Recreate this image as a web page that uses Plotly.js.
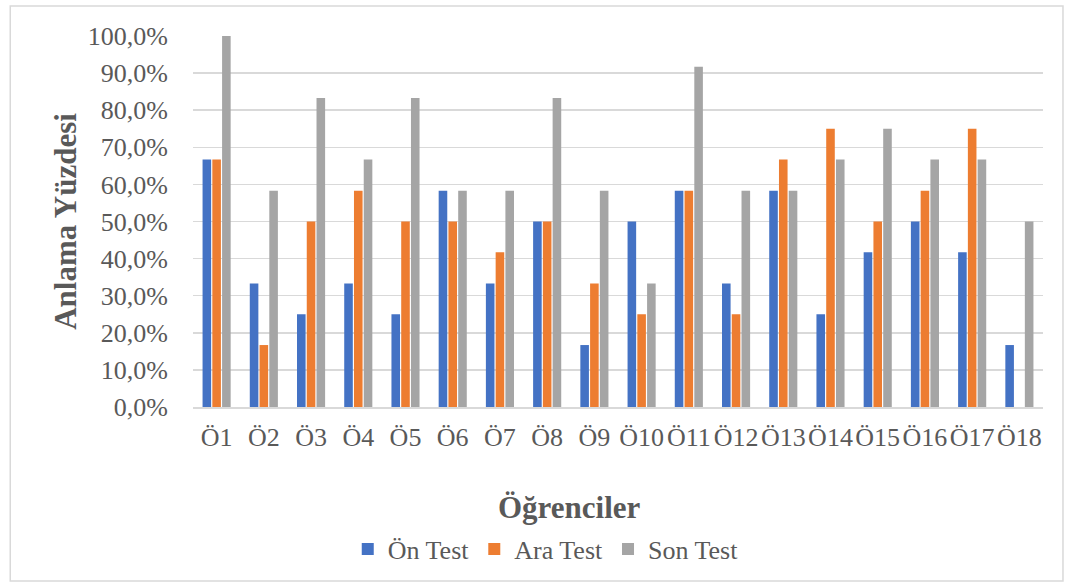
<!DOCTYPE html>
<html><head><meta charset="utf-8">
<script src="https://cdn.plot.ly/plotly-3.0.1.min.js"></script>
<style>html,body{margin:0;padding:0;background:#fff}#c{width:1065px;height:585px}</style>
</head><body><div id="c"></div>
<script>
const categories = ["Ö1","Ö2","Ö3","Ö4","Ö5","Ö6","Ö7","Ö8","Ö9","Ö10","Ö11","Ö12","Ö13","Ö14","Ö15","Ö16","Ö17","Ö18"];
const onTest  = [66.7,33.3,25.0,33.3,25.0,58.3,33.3,50.0,16.7,50.0,58.3,33.3,58.3,25.0,41.7,50.0,41.7,16.7];
const araTest = [66.7,16.7,50.0,58.3,50.0,50.0,41.7,50.0,33.3,25.0,58.3,25.0,66.7,75.0,50.0,58.3,75.0,0.0];
const sonTest = [100.0,58.3,83.3,66.7,83.3,58.3,58.3,83.3,58.3,33.3,91.7,58.3,58.3,66.7,75.0,66.7,66.7,50.0];
const seriesNames = ["Ön Test","Ara Test","Son Test"];
const xTitle = "Öğrenciler";
const yTitle = "Anlama Yüzdesi";
const colors = ["#4472C4","#ED7D31","#A5A5A5"];
const serif = "Liberation Serif, Times New Roman, serif";
const data = [onTest, araTest, sonTest].map((v,i)=>({
  type:"bar", x:categories, y:v, name:seriesNames[i],
  marker:{color:colors[i], line:{width:0}}, hoverinfo:"x+y"
}));
const layout = {
  width:1065, height:585,
  margin:{l:193, r:22, t:36, b:178},
  paper_bgcolor:"#fff", plot_bgcolor:"#fff",
  separators:",.",
  barmode:"group", bargap:0.38, bargroupgap:0.12,
  font:{family:serif, color:"#595959", size:26},
  xaxis:{
    type:"category", showgrid:false, showline:true, linecolor:"#D9D9D9", linewidth:1.5,
    ticks:"", tickangle:0, ticklabelstandoff:6, tickfont:{family:serif,size:26,color:"#595959"}
  },
  yaxis:{
    range:[0,100], dtick:10, tickformat:".1f", ticksuffix:"%",
    showgrid:true, gridcolor:"#D9D9D9", gridwidth:1.5, zeroline:false,
    showline:false, ticks:"", ticklen:0, ticklabelstandoff:24,
    tickfont:{family:serif,size:26,color:"#595959"},
    title:{text:yTitle, font:{family:serif,size:31,color:"#595959",weight:"bold"}, standoff:1}
  },
  annotations:[{text:xTitle, xref:"paper", yref:"paper", x:0.4435, y:-0.272, xanchor:"center", yanchor:"middle",
    showarrow:false, font:{family:serif,size:31,color:"#595959",weight:"bold"}}],
  legend:{orientation:"h", x:0.415, xanchor:"center", y:-0.383, yanchor:"middle",
    font:{family:serif,size:26,color:"#595959"}, itemwidth:30, traceorder:"normal", tracegroupgap:0},
  shapes:[{type:"rect", xref:"paper", yref:"paper", x0:-0.215, x1:1.0235, y0:-0.469, y1:1.081,
    line:{color:"#D9D9D9", width:1.5}, fillcolor:"rgba(0,0,0,0)"}]
};
Plotly.newPlot("c", data, layout, {displayModeBar:false, staticPlot:true});
</script></body></html>
